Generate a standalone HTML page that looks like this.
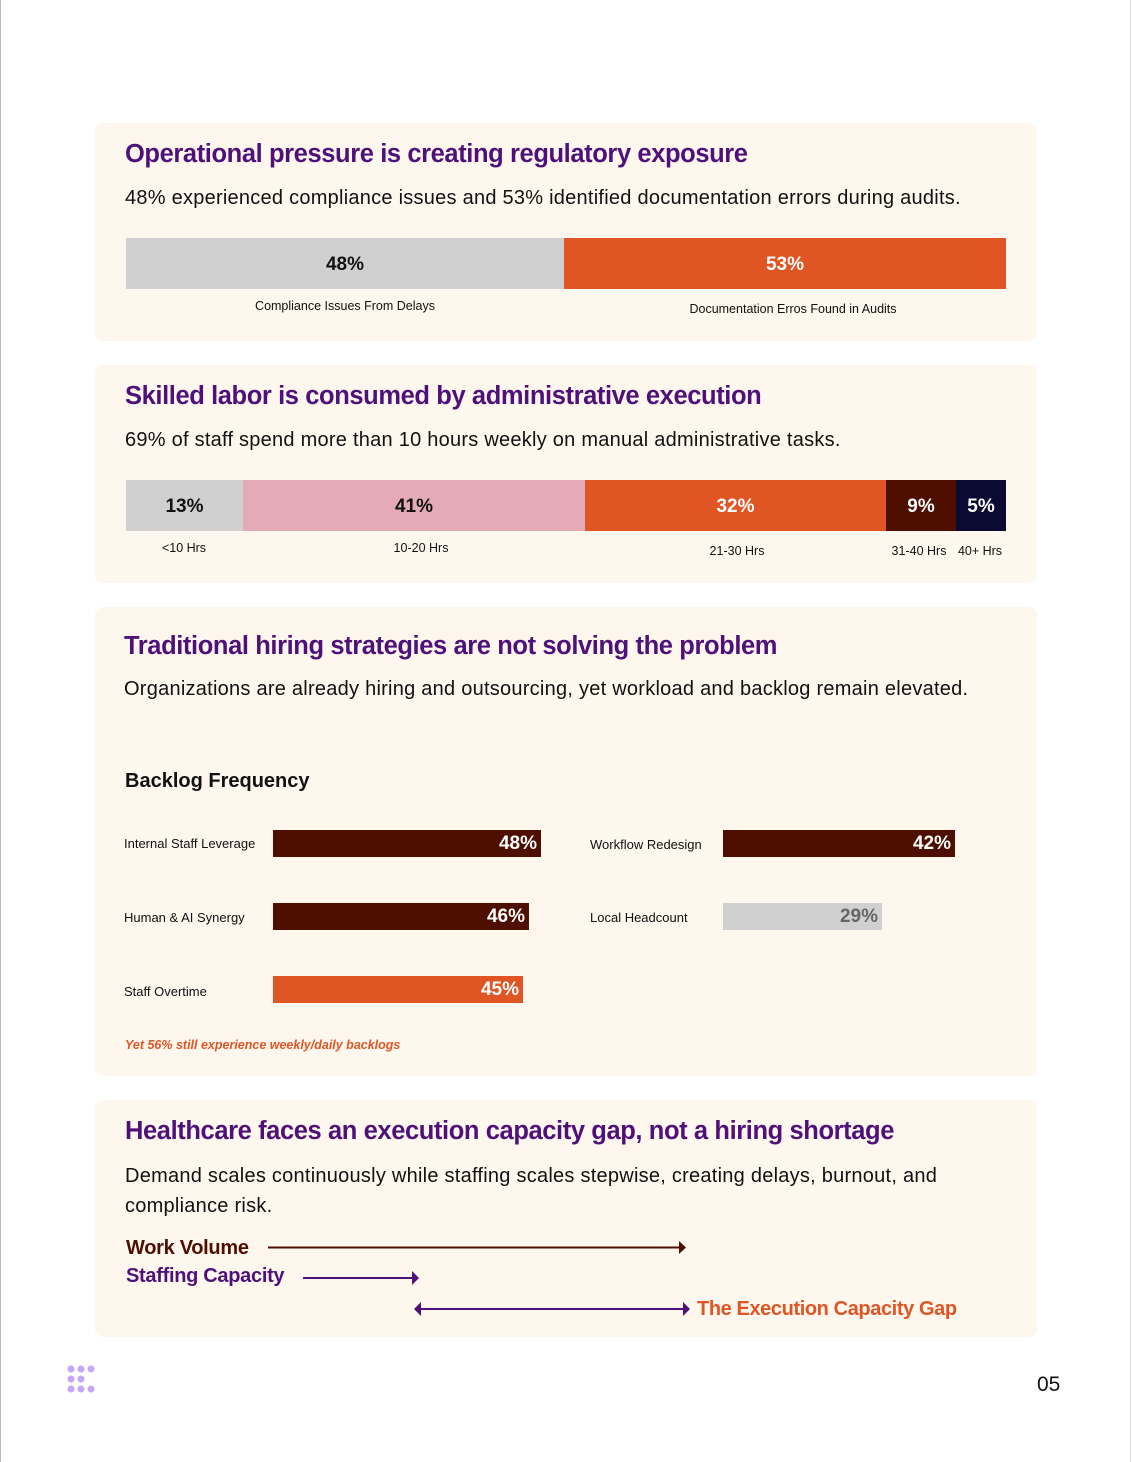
<!DOCTYPE html>
<html><head><style>
body{margin:0;width:1132px;height:1462px;background:#fff;position:relative;font-family:"Liberation Sans",sans-serif;overflow:hidden}
.a{position:absolute}
.card{position:absolute;left:95px;width:942px;background:#fef7ee;border-radius:8px}
.h{position:absolute;color:#4f1179;font-weight:bold;font-size:25.5px;letter-spacing:-0.4px;white-space:nowrap}
.s{position:absolute;color:#111;font-size:20px;letter-spacing:0.25px;white-space:nowrap}
.b{position:absolute;display:flex;align-items:center;justify-content:center;font-weight:bold;font-size:19px;padding-top:3px;box-sizing:border-box}
.l{position:absolute;font-size:12.5px;color:#111;white-space:nowrap;transform:translateX(-50%)}
.rl{position:absolute;font-size:13px;color:#111;white-space:nowrap}
.hb{position:absolute;height:27px;color:#fff;font-weight:bold;font-size:19px;text-align:right;line-height:28px;box-sizing:border-box;padding-right:4px}
</style></head><body>
<div class="a" style="left:0;top:0;width:1px;height:1462px;background:#bbb"></div>
<div class="a" style="left:1130px;top:0;width:1px;height:1462px;background:#ddd"></div>

<div class="card" style="top:123px;height:218px"></div>
<div class="h" style="left:125px;top:140px">Operational pressure is creating regulatory exposure</div>
<div class="s" style="left:125px;top:187px">48% experienced compliance issues and 53% identified documentation errors during audits.</div>
<div class="b" style="left:126px;top:238px;width:438px;height:51px;background:#d0d0d0;color:#111">48%</div>
<div class="b" style="left:564px;top:238px;width:442px;height:51px;background:#e05524;color:#fff">53%</div>
<div class="l" style="left:345px;top:299px">Compliance Issues From Delays</div>
<div class="l" style="left:793px;top:302px">Documentation Erros Found in Audits</div>

<div class="card" style="top:365px;height:218px"></div>
<div class="h" style="left:125px;top:382px">Skilled labor is consumed by administrative execution</div>
<div class="s" style="left:125px;top:429px">69% of staff spend more than 10 hours weekly on manual administrative tasks.</div>
<div class="b" style="left:126px;top:480px;width:117px;height:51px;background:#d0d0d0;color:#111">13%</div>
<div class="b" style="left:243px;top:480px;width:342px;height:51px;background:#e4abb6;color:#111">41%</div>
<div class="b" style="left:585px;top:480px;width:301px;height:51px;background:#e05524;color:#fff">32%</div>
<div class="b" style="left:886px;top:480px;width:70px;height:51px;background:#4e0f00;color:#fff">9%</div>
<div class="b" style="left:956px;top:480px;width:50px;height:51px;background:#0a0a33;color:#fff">5%</div>
<div class="l" style="left:184px;top:541px">&lt;10 Hrs</div>
<div class="l" style="left:421px;top:541px">10-20 Hrs</div>
<div class="l" style="left:737px;top:544px">21-30 Hrs</div>
<div class="l" style="left:919px;top:544px">31-40 Hrs</div>
<div class="l" style="left:980px;top:544px">40+ Hrs</div>

<div class="card" style="top:607px;height:469px"></div>
<div class="h" style="left:124px;top:632px">Traditional hiring strategies are not solving the problem</div>
<div class="s" style="left:124px;top:678px">Organizations are already hiring and outsourcing, yet workload and backlog remain elevated.</div>
<div class="a" style="left:125px;top:770px;font-size:20px;font-weight:bold;color:#111">Backlog Frequency</div>
<div class="rl" style="left:124px;top:836px">Internal Staff Leverage</div>
<div class="hb" style="left:273px;top:830px;width:268px;background:#4e0f00">48%</div>
<div class="rl" style="left:590px;top:837px">Workflow Redesign</div>
<div class="hb" style="left:723px;top:830px;width:232px;background:#4e0f00">42%</div>
<div class="rl" style="left:124px;top:910px">Human &amp; AI Synergy</div>
<div class="hb" style="left:273px;top:903px;width:256px;background:#4e0f00">46%</div>
<div class="rl" style="left:590px;top:910px">Local Headcount</div>
<div class="hb" style="left:723px;top:903px;width:159px;background:#d0d0d0;color:#666">29%</div>
<div class="rl" style="left:124px;top:984px">Staff Overtime</div>
<div class="hb" style="left:273px;top:976px;width:250px;background:#e05524">45%</div>
<div class="a" style="left:125px;top:1038px;font-size:12.5px;font-style:italic;font-weight:bold;color:#e05524">Yet 56% still experience weekly/daily backlogs</div>

<div class="card" style="top:1100px;height:237px"></div>
<div class="h" style="left:125px;top:1117px">Healthcare faces an execution capacity gap, not a hiring shortage</div>
<div class="s" style="left:125px;top:1161px;line-height:30px">Demand scales continuously while staffing scales stepwise, creating delays, burnout, and<br>compliance risk.</div>
<div class="a" style="left:126px;top:1237px;font-size:20px;font-weight:bold;color:#4e0f00;letter-spacing:-0.3px">Work Volume</div>
<div class="a" style="left:126px;top:1265px;font-size:20px;font-weight:bold;color:#4f1179;letter-spacing:-0.3px">Staffing Capacity</div>
<div class="a" style="left:697px;top:1298px;font-size:20px;font-weight:bold;color:#e05524;letter-spacing:-0.4px">The Execution Capacity Gap</div>
<svg class="a" style="left:0;top:0" width="1132" height="1462">
<line x1="268" y1="1247.5" x2="680" y2="1247.5" stroke="#4e0f00" stroke-width="2"/>
<polygon points="679,1241 686,1247.5 679,1254" fill="#4e0f00"/>
<line x1="303" y1="1278" x2="413" y2="1278" stroke="#4f1179" stroke-width="2"/>
<polygon points="412,1271 419,1278 412,1285" fill="#4f1179"/>
<line x1="420" y1="1309" x2="684" y2="1309" stroke="#4f1179" stroke-width="2"/>
<polygon points="421,1302 414,1309 421,1316" fill="#4f1179"/>
<polygon points="683,1302 690,1309 683,1316" fill="#4f1179"/>
<g fill="#c4a8f7">
<circle cx="71" cy="1369" r="3.5"/><circle cx="81" cy="1369" r="3.5"/><circle cx="91" cy="1369" r="3.5"/>
<circle cx="71" cy="1379" r="3.5"/><circle cx="81" cy="1379" r="3.5"/>
<circle cx="71" cy="1389" r="3.5"/><circle cx="81" cy="1389" r="3.5"/><circle cx="91" cy="1389" r="3.5"/>
</g>
</svg>
<div class="a" style="left:1037px;top:1373px;font-size:21px;color:#111">05</div>
</body></html>
